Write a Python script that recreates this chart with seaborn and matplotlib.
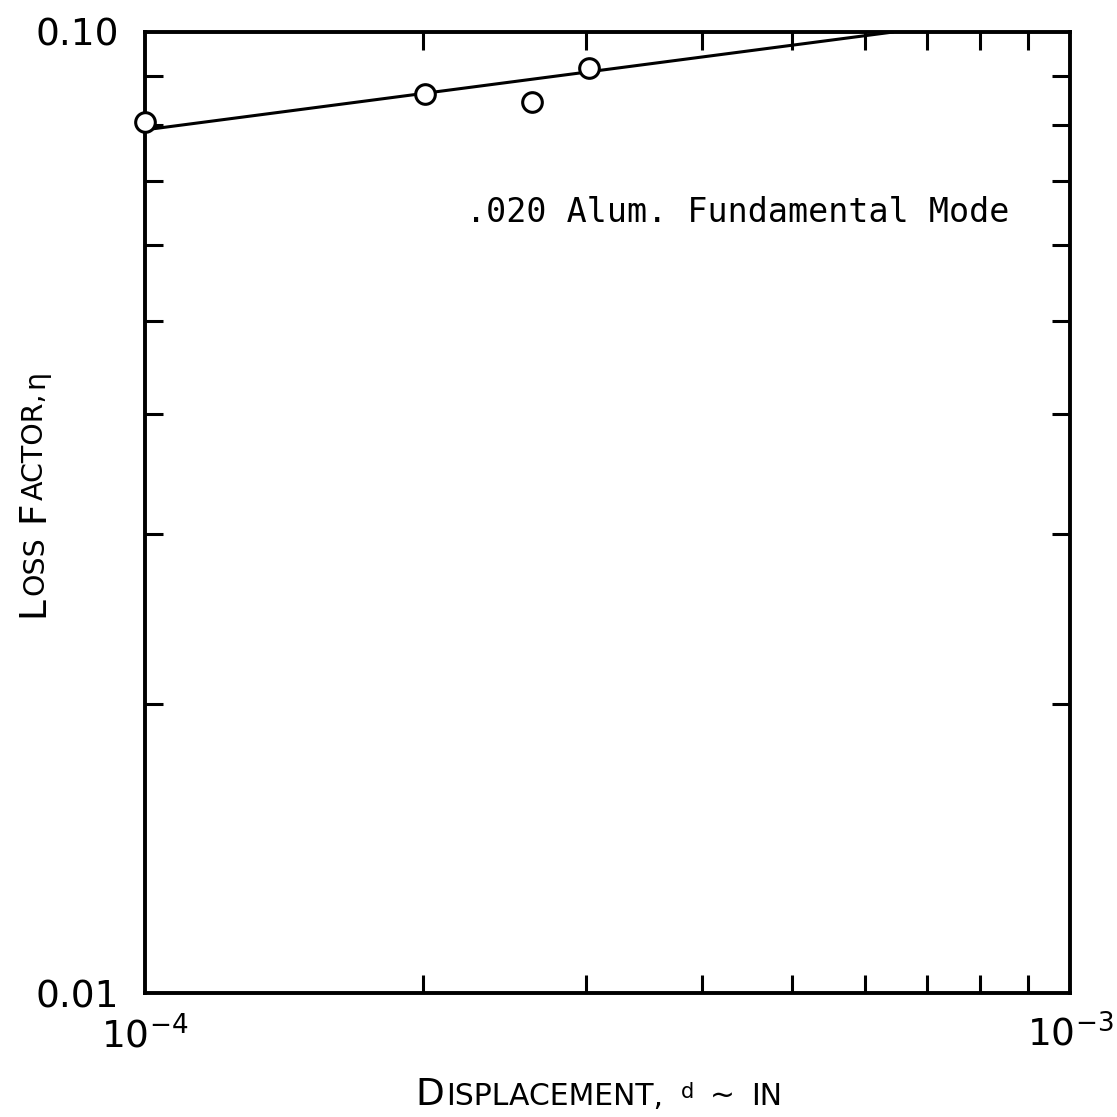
import numpy as np
import pandas as pd
import matplotlib
matplotlib.use('Agg')
import matplotlib.pyplot as plt
import seaborn as sns
from matplotlib import font_manager
from matplotlib.ticker import FixedLocator, FixedFormatter, LogLocator, NullFormatter

# 측정 데이터 (변위 vs 손실계수)
disp = [1.0e-4, 2.01e-4, 2.62e-4, 3.02e-4]
loss = [0.0806, 0.0862, 0.0846, 0.0917]

# 추세선 끝점
fit_disp = [1.0e-4, 6.44e-4]
fit_loss = [0.0791, 0.100]

x_ticks = [1e-4, 1e-3]
x_tick_labels = [r'$\mathregular{10^{-4}}$', r'$\mathregular{10^{-3}}$']
y_ticks = [0.01, 0.1]
y_tick_labels = ['0.01', '0.10']

note = '.020 Alum. Fundamental Mode'

sns.set_style('ticks')
names = {f.name for f in font_manager.fontManager.ttflist}
narrow = 'Liberation Sans Narrow' if 'Liberation Sans Narrow' in names else 'DejaVu Sans'
plt.rcParams['font.family'] = [narrow, 'DejaVu Sans']
plt.rcParams['mathtext.fontset'] = 'custom'
plt.rcParams['mathtext.rm'] = narrow
plt.rcParams['text.color'] = 'black'

fig = plt.figure(figsize=(11.17, 11.17), dpi=100)
ax = fig.add_axes([145 / 1117, 1 - 993 / 1117, 925 / 1117, 961 / 1117])

sns.lineplot(x=fit_disp, y=fit_loss, ax=ax, color='black', linewidth=2.2, sort=False)
sns.scatterplot(x=disp, y=loss, ax=ax, s=200, facecolor='white', edgecolor='black',
                linewidth=2.2, zorder=5, clip_on=False)

ax.set_xscale('log')
ax.set_yscale('log')
ax.set_xlim(1e-4, 1e-3)
ax.set_ylim(0.01, 0.1)

ax.xaxis.set_major_locator(FixedLocator(x_ticks))
ax.xaxis.set_major_formatter(FixedFormatter(x_tick_labels))
ax.yaxis.set_major_locator(FixedLocator(y_ticks))
ax.yaxis.set_major_formatter(FixedFormatter(y_tick_labels))
for a in (ax.xaxis, ax.yaxis):
    a.set_minor_locator(LogLocator(base=10, subs=np.arange(2, 10)))
    a.set_minor_formatter(NullFormatter())

ax.tick_params(which='both', direction='in', top=True, right=True, colors='black')
ax.tick_params(which='major', length=0, labelsize=27)
ax.tick_params(which='minor', length=13, width=2.2)
ax.tick_params(axis='x', which='major', pad=16)
ax.tick_params(axis='y', which='major', pad=19)
for sp in ax.spines.values():
    sp.set_linewidth(2.8)
    sp.set_color('black')

ax.set_xlabel('')
ax.set_ylabel('')

ax.text(0.347, 0.8117, note, transform=ax.transAxes, ha='left', va='center',
        fontsize=24, color='black', family=['DejaVu Sans Mono'])

# 스몰캡스 라벨 (큰 글자 + 작은 글자 조합)
def small_caps(x_px, y_px, parts, rotation=0):
    fig.canvas.draw()
    r = fig.canvas.get_renderer()
    for text, size, gap, rise in parts:
        if rotation == 0:
            tx, ty = x_px, y_px - rise
        else:
            tx, ty = x_px - rise, y_px
        t = fig.text(tx / 1117, 1 - ty / 1117, text, fontsize=size, rotation=rotation,
                     ha='left', va='baseline', rotation_mode='anchor', color='black')
        bb = t.get_window_extent(r)
        if rotation == 0:
            x_px += bb.width + gap
        else:
            y_px -= bb.height + gap

small_caps(415, 1105, [('D', 27, 2, 0), ('ISPLACEMENT,', 21.5, 18, 0), ('d', 15, 16, 7),
                       ('~', 21.5, 16, 0), ('IN', 21.5, 0, 0)])
small_caps(43, 617, [('L', 27, 1, 0), ('OSS', 20.5, 14, 0), ('F', 27, 1, 0),
                     ('ACTOR,', 20.5, 4, 0), ('η', 20.5, 0, 0)], rotation=90)

fig.savefig('out.png', dpi=100, facecolor='white')
